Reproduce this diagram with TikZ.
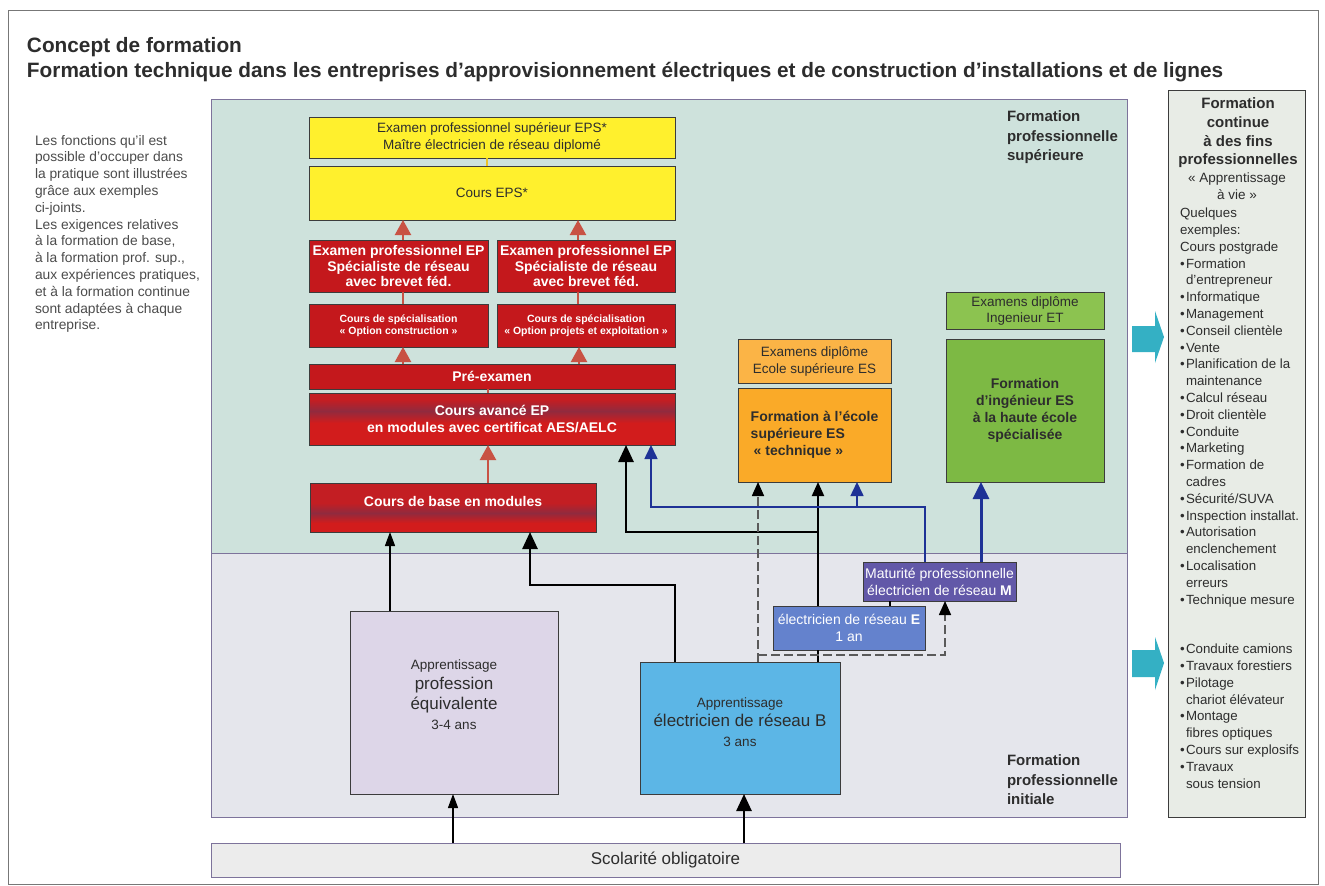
\documentclass[tikz,border=0pt]{standalone}
\usepackage{fontspec}
\setmainfont{Liberation Sans}
\usetikzlibrary{arrows.meta,calc}
\definecolor{txt}{RGB}{45,45,45}
\definecolor{edge}{RGB}{60,60,60}
\definecolor{regedge}{RGB}{125,115,155}
\definecolor{upbg}{RGB}{206,226,220}
\definecolor{lowbg}{RGB}{229,230,236}
\definecolor{rR}{RGB}{210,28,28}
\definecolor{rT}{RGB}{195,30,35}
\definecolor{rM}{RGB}{145,42,62}
\definecolor{redflat}{RGB}{196,24,28}
\definecolor{salmon}{RGB}{200,82,68}
\definecolor{yel}{RGB}{255,240,45}
\definecolor{yelln}{RGB}{235,195,40}
\definecolor{orhead}{RGB}{251,180,70}
\definecolor{orbody}{RGB}{250,170,40}
\definecolor{grhead}{RGB}{140,195,80}
\definecolor{grbody}{RGB}{125,185,68}
\definecolor{matu}{RGB}{98,88,168}
\definecolor{ebox}{RGB}{100,130,205}
\definecolor{bbox}{RGB}{92,182,230}
\definecolor{eqbox}{RGB}{221,214,232}
\definecolor{colbg}{RGB}{232,236,230}
\definecolor{cyanarr}{RGB}{52,176,196}
\definecolor{scolbg}{RGB}{236,236,236}
\definecolor{darkblue}{RGB}{30,50,150}
\definecolor{dashgray}{RGB}{90,90,90}
\newcommand\myfs[2]{\fontsize{#1}{#2}\selectfont}
\newcommand\bul{\makebox[6pt][l]{•}}
\newcommand\ind{\hspace*{6pt}}
\begin{document}
\begin{tikzpicture}[x=1pt,y=-1pt,
  bx/.style={draw=edge, line width=0.9pt, inner sep=2pt, outer sep=0pt, anchor=north west, align=center, text=txt, font=\myfs{13.5}{16.5}},
  redbx/.style={bx, fill=redflat, text=white, font=\bfseries\myfs{14}{15.8}},
  redsm/.style={redbx, font=\bfseries\myfs{10.5}{12}},
  redband/.style n args={3}{fill=rR, path picture={
     \fill[rT] (path picture bounding box.north west) rectangle ($(path picture bounding box.north east)+(0,#1)$);
     \shade[top color=rT, bottom color=rM] ($(path picture bounding box.north west)+(0,#1)$) rectangle ($(path picture bounding box.north east)+(0,#2)$);
     \shade[top color=rM, bottom color=rR] ($(path picture bounding box.north west)+(0,#2)$) rectangle ($(path picture bounding box.north east)+(0,#3)$);}},
  yelbx/.style={bx, fill=yel},
  region/.style={draw=regedge, line width=1pt, inner sep=0pt, outer sep=0pt, anchor=north west},
  plain/.style={inner sep=0pt, outer sep=0pt, text=txt},
  redarr/.style={draw=salmon, line width=2.2pt, -{Triangle[width=16pt,length=15pt]}},
  redln/.style={draw=salmon, line width=2pt},
  thinarr/.style={draw=black, line width=1.3pt, -{Triangle[width=10pt,length=14pt]}},
  thickarr/.style={draw=black, line width=2.6pt, -{Triangle[width=15pt,length=17pt]}},
  thickln/.style={draw=black, line width=2.6pt},
  midarr/.style={draw=black, line width=2pt, -{Triangle[width=12pt,length=14pt]}},
  dasharr/.style={draw=dashgray, line width=1.6pt, dash pattern=on 9pt off 4pt, -{Triangle[width=12pt,length=14pt,color=black]}},
  bluearr/.style={draw=darkblue, line width=1.6pt, -{Triangle[width=13pt,length=14pt]}},
  bluethick/.style={draw=darkblue, line width=3pt, -{Triangle[width=16pt,length=17pt]}},
  cyanblk/.style={fill=cyanarr}
]
\useasboundingbox (0,0) rectangle (1325,886);
\fill[white] (0,0) rectangle (1325,886);
\draw[edge!70, line width=0.8pt] (8,10) rectangle (1318,884);

% titles
\node[plain, anchor=base west, font=\bfseries\myfs{20.8}{24}] (t1) at (27,52) {Concept de formation};
\node[plain, anchor=base west, font=\bfseries\myfs{20.8}{24}] (t2) at (27,77) {Formation technique dans les entreprises d’approvisionnement électriques et de construction d’installations et de lignes};

% left text
\node[plain, anchor=north west, align=left, font=\myfs{13.8}{16.8}, text=txt!85] (lefttxt) at (35,135) {Les fonctions qu’il est\\possible d’occuper dans\\la pratique sont illustrées\\grâce aux exemples\\ci-joints.\\Les exigences relatives\\à la formation de base,\\à la formation prof. sup.,\\aux expériences pratiques,\\et à la formation continue\\sont adaptées à chaque\\entreprise.};

% regions
\node[region, fill=upbg, minimum width=916pt, minimum height=454pt] (sup) at (211,99) {};
\node[region, fill=lowbg, minimum width=916pt, minimum height=264pt] (ini) at (211,553) {};
\node[plain, anchor=north west, align=left, font=\bfseries\myfs{15}{19.5}] (suplbl) at (1007,111) {Formation\\professionnelle\\supérieure};
\node[plain, anchor=north west, align=left, font=\bfseries\myfs{15}{19.5}] (inilbl) at (1007,755) {Formation\\professionnelle\\initiale};

% scolarite
\node[region, fill=scolbg, minimum width=909pt, minimum height=34pt, font=\myfs{17}{20}, text=txt] (scol) at (211,843) {Scolarité obligatoire};

% upper boxes
\node[yelbx, minimum width=366pt, minimum height=41pt] (epsexam) at (309,117) {Examen professionnel supérieur EPS*\\Maître électricien de réseau diplomé};
\node[yelbx, minimum width=366pt, minimum height=54pt] (eps) at (309,166) {Cours EPS*};
\node[redbx, minimum width=179pt, minimum height=52pt] (ex1) at (309,240) {Examen professionnel EP\\Spécialiste de réseau\\avec brevet féd.};
\node[redbx, minimum width=178pt, minimum height=52pt] (ex2) at (497,240) {Examen professionnel EP\\Spécialiste de réseau\\avec brevet féd.};
\node[redsm, minimum width=179pt, minimum height=43pt] (spec1) at (309,304) {Cours de spécialisation\\« Option construction »};
\node[redsm, minimum width=178pt, minimum height=43pt] (spec2) at (497,304) {Cours de spécialisation\\« Option projets et exploitation »};
\node[redbx, minimum width=366pt, minimum height=25pt] (pre) at (309,364) {Pré-examen};
\node[redbx, redband={7}{18}{30}, minimum width=366pt, minimum height=52pt, font=\bfseries\myfs{14}{17}] (avance) at (309,393) {Cours avancé EP\\en modules avec certificat AES/AELC};
\node[redbx, redband={20}{30}{40}, minimum width=286pt, minimum height=49pt, text depth=12pt] (base) at (310,483) {Cours de base en modules};

% ES and engineer
\node[bx, fill=orhead, minimum width=153pt, minimum height=44pt, font=\myfs{13.5}{17}] (eshead) at (738,339) {Examens diplôme\\Ecole supérieure ES};
\node[bx, fill=orbody, minimum width=153pt, minimum height=94pt, align=left, font=\bfseries\myfs{14}{16.7}] (esform) at (738,388) {Formation à l’école\\supérieure ES\\\hspace*{3pt}« technique »};
\node[bx, fill=grhead, minimum width=158pt, minimum height=37pt, font=\myfs{13.5}{16}] (inghead) at (946,292) {Examens diplôme\\Ingenieur ET};
\node[bx, fill=grbody, minimum width=158pt, minimum height=143pt, font=\bfseries\myfs{14}{17}] (ing) at (946,339) {Formation\\d’ingénieur ES\\à la haute école\\spécialisée};

% lower boxes
\node[bx, fill=eqbox, minimum width=208pt, minimum height=183pt] (equiv) at (350,611) {};
\node[plain, font=\myfs{17}{20}, align=center] (equivtxt) at ($(equiv.center)+(0,-8)$) {{\myfs{13.5}{16}Apprentissage}\\profession\\équivalente\\{\myfs{13.5}{16}3-4 ans}};
\node[bx, fill=bbox, minimum width=200pt, minimum height=132pt] (appb) at (640,662) {};
\node[plain, font=\myfs{17}{19.5}, align=center] (appbtxt) at ($(appb.center)+(0,-6)$) {{\myfs{13.5}{16}Apprentissage}\\électricien de réseau B\\{\myfs{13.5}{16}3 ans}};
\node[bx, fill=ebox, text=white, minimum width=152pt, minimum height=44pt, font=\myfs{14}{17}] (eb) at (773,606) {électricien de réseau \textbf{E}\\1 an};
\node[bx, fill=matu, text=white, minimum width=153pt, minimum height=39pt, font=\myfs{14}{17}] (mat) at (863,562) {Maturité professionnelle\\électricien de réseau \textbf{M}};

% right column
\node[region, draw=edge, fill=colbg, minimum width=137pt, minimum height=727pt] (col) at (1168,90) {};
\node[plain, anchor=north, align=center, font=\bfseries\myfs{15}{18.7}] (coltitle) at (1238,98) {Formation\\continue\\à des fins\\professionnelles};
\node[plain, anchor=north, align=center, font=\myfs{13.5}{17}] (colsub) at (1237,173) {« Apprentissage\\à vie »};
\node[plain, anchor=north west, align=left, font=\myfs{13.3}{16.8}] (list1) at (1180,208) {Quelques\\exemples:\\Cours postgrade\\\bul Formation\\\ind d’entrepreneur\\\bul Informatique\\\bul Management\\\bul Conseil clientèle\\\bul Vente\\\bul Planification de la\\\ind maintenance\\\bul Calcul réseau\\\bul Droit clientèle\\\bul Conduite\\\bul Marketing\\\bul Formation de\\\ind cadres\\\bul Sécurité/SUVA\\\bul Inspection installat.\\\bul Autorisation\\\ind enclenchement\\\bul Localisation\\\ind erreurs\\\bul Technique mesure};
\node[plain, anchor=north west, align=left, font=\myfs{13.3}{16.8}] (list2) at (1180,644) {\bul Conduite camions\\\bul Travaux forestiers\\\bul Pilotage\\\ind chariot élévateur\\\bul Montage\\\ind fibres optiques\\\bul Cours sur explosifs\\\bul Travaux\\\ind sous tension};

% cyan arrows
\fill[cyanblk] (1132,326) -- (1155,326) -- (1155,311) -- (1164,337) -- (1155,363) -- (1155,352) -- (1132,352) -- cycle;
\fill[cyanblk] (1132,650) -- (1155,650) -- (1155,637) -- (1164,663) -- (1155,690) -- (1155,677) -- (1132,677) -- cycle;

% red connectors
\draw[yelln, line width=2pt] (epsexam.south -| 487,0) -- (eps.north -| 487,0);
\draw[redarr] (ex1.north -| 403,0) -- (eps.south -| 403,0);
\draw[redarr] (ex2.north -| 578,0) -- (eps.south -| 578,0);
\draw[redln] (spec1.north -| 403,0) -- (ex1.south -| 403,0);
\draw[redln] (spec2.north -| 578,0) -- (ex2.south -| 578,0);
\draw[redarr] (pre.north -| 403,0) -- (spec1.south -| 403,0);
\draw[redarr] (pre.north -| 579,0) -- (spec2.south -| 579,0);
\draw[redln] (avance.north -| 488,0) -- (pre.south -| 488,0);
\draw[redarr] (base.north -| 488,0) -- (avance.south -| 488,0);

% black connectors
\draw[thinarr] (equiv.north -| 390,0) -- (base.south -| 390,0);
\draw[thickarr] (appb.north -| 675,0) -- (675,585) -- (530,585) -- (base.south -| 530,0);
\draw[thickln] (appb.north -| 818,0) -- (eb.south -| 818,0);
\draw[midarr] (eb.north -| 818,0) -- (esform.south -| 818,0);
\draw[thickarr] (818,532) -- (626,532) -- (avance.south -| 626,0);
\draw[thickln] (mat.south -| 890,0) -- (eb.north -| 890,0);
\draw[dasharr] (appb.north -| 758,0) -- (esform.south -| 758,0);
\draw[dasharr] (758,655) -- (945,655) -- (mat.south -| 945,0);

% blue connectors
\draw[bluearr] (mat.north -| 925,0) -- (925,507) -- (651,507) -- (avance.south -| 651,0);
\draw[bluearr] (857,507) -- (esform.south -| 857,0);
\draw[bluethick] (mat.north -| 981,0) -- (ing.south -| 981,0);

% from scolarite
\draw[thinarr] (scol.north -| 453,0) -- (equiv.south -| 453,0);
\draw[thickarr] (scol.north -| 744,0) -- (appb.south -| 744,0);
\end{tikzpicture}
\end{document}
